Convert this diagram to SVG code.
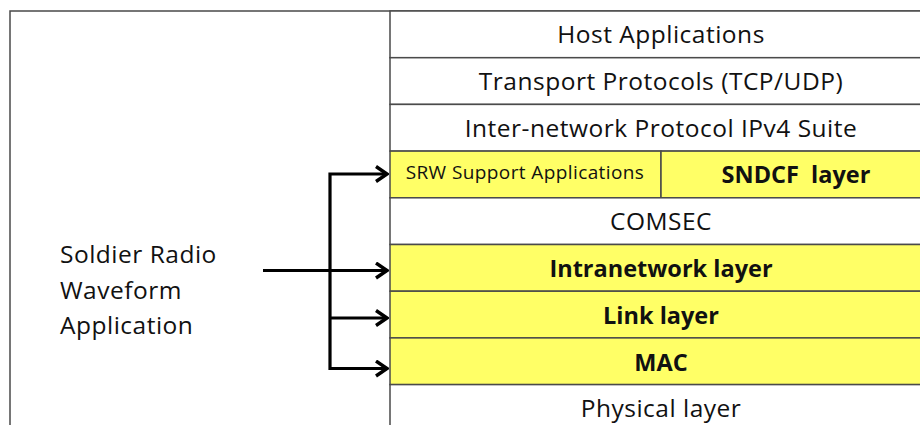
<svg xmlns="http://www.w3.org/2000/svg" width="920" height="425" viewBox="0 0 920 425">
<defs>
<style>
.cell{stroke:#4a4a4a;stroke-width:1.5}
.w{fill:#ffffff}
.y{fill:#ffff66}
.t{font-family:"Open Sans","Noto Sans","Liberation Sans",sans-serif;font-size:24.5px;letter-spacing:0.5px;fill:#111;text-anchor:middle}
.b{font-weight:bold;font-size:23.5px;letter-spacing:0}
.s{font-size:19px;letter-spacing:0.4px}
.conn{fill:none;stroke:#000;stroke-width:3.2}
</style>
<marker id="ah" markerWidth="16" markerHeight="18" viewBox="0 0 16 18" refX="14" refY="9" orient="auto" markerUnits="userSpaceOnUse">
<path d="M3,1.5 L14,9 L3,16.5" fill="none" stroke="#000" stroke-width="3.4"/>
</marker>
</defs>
<rect x="0" y="0" width="920" height="425" fill="#ffffff"/>
<g id="outer">
<path d="M10,425 L10,11 L920,11" fill="none" stroke="#4a4a4a" stroke-width="1.5"/>
</g>
<g id="host"><rect class="cell w" x="390" y="11" width="545" height="46.7"/><text class="t" x="661" y="43">Host Applications</text></g>
<g id="transport"><rect class="cell w" x="390" y="57.7" width="545" height="46.7"/><text class="t" x="661" y="90">Transport Protocols (TCP/UDP)</text></g>
<g id="internetwork"><rect class="cell w" x="390" y="104.4" width="545" height="46.7"/><text class="t" x="661" y="137">Inter-network Protocol IPv4 Suite</text></g>
<g id="srw"><rect class="cell y" x="390" y="151.1" width="271" height="46.7"/><text class="t s" x="525" y="179">SRW Support Applications</text></g>
<g id="sndcf"><rect class="cell y" x="661" y="151.1" width="274" height="46.7"/><text class="t b" x="796" y="183" xml:space="preserve">SNDCF  layer</text></g>
<g id="comsec"><rect class="cell w" x="390" y="197.8" width="545" height="46.7"/><text class="t" x="661" y="230">COMSEC</text></g>
<g id="intranetwork"><rect class="cell y" x="390" y="244.5" width="545" height="46.7"/><text class="t b" x="661" y="277">Intranetwork layer</text></g>
<g id="link"><rect class="cell y" x="390" y="291.2" width="545" height="46.7"/><text class="t b" x="661" y="324">Link layer</text></g>
<g id="mac"><rect class="cell y" x="390" y="337.9" width="545" height="46.7"/><text class="t b" x="661" y="371">MAC</text></g>
<g id="physical"><rect class="cell w" x="390" y="384.6" width="545" height="46.7"/><text class="t" x="661" y="417">Physical layer</text></g>
<g id="srwapp">
<text class="t" style="text-anchor:start" x="60" y="263">Soldier Radio</text>
<text class="t" style="text-anchor:start" x="60" y="299">Waveform</text>
<text class="t" style="text-anchor:start" x="60" y="334">Application</text>
</g>
<g id="connectors">
<path class="conn" d="M330,370 L330,174 L387,174" marker-end="url(#ah)"/>
<path class="conn" d="M263,270.5 L387,270.5" marker-end="url(#ah)"/>
<path class="conn" d="M330,318 L387,318" marker-end="url(#ah)"/>
<path class="conn" d="M330,368.5 L387,368.5" marker-end="url(#ah)"/>
</g>
</svg>
